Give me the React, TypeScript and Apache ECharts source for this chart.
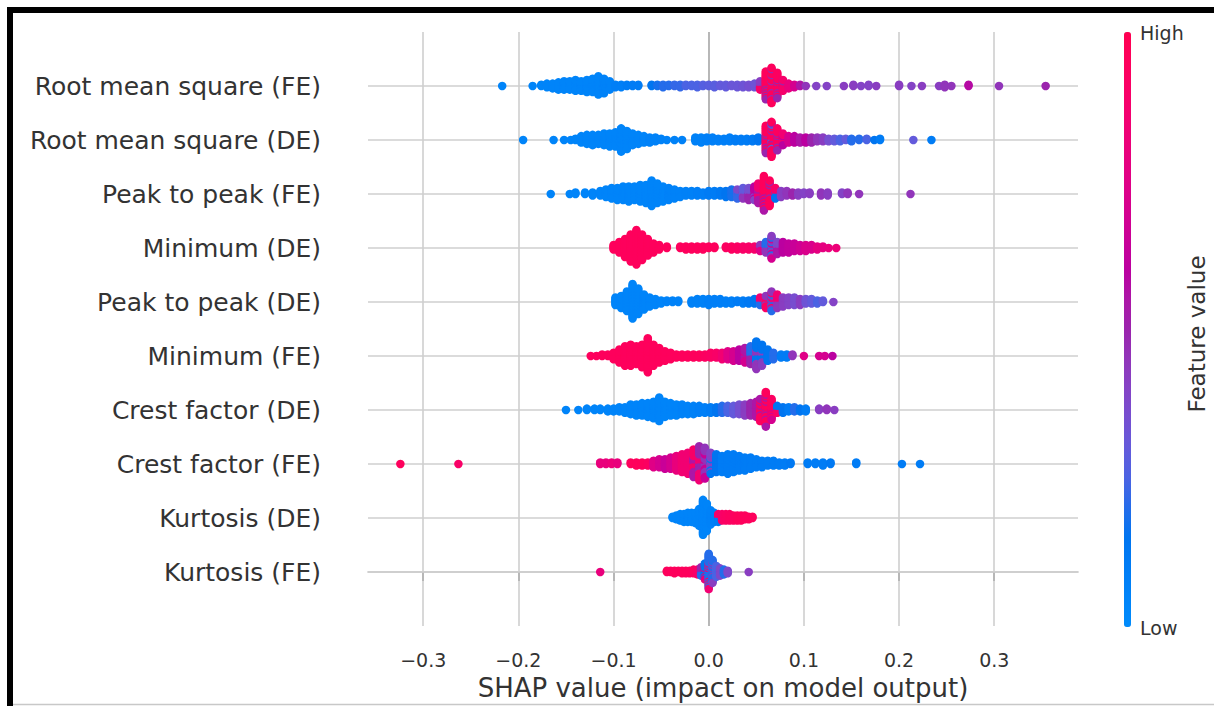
import React, { useEffect, useRef } from "react";
import * as echarts from "echarts";

// Feature names, top to bottom
const features = [
  "Root mean square (FE)",
  "Root mean square (DE)",
  "Peak to peak (FE)",
  "Minimum (DE)",
  "Peak to peak (DE)",
  "Minimum (FE)",
  "Crest factor (DE)",
  "Crest factor (FE)",
  "Kurtosis (DE)",
  "Kurtosis (FE)",
];

const xTicks = [-0.3, -0.2, -0.1, 0, 0.1, 0.2, 0.3];

// Each entry: [SHAP value, number of samples, feature value (0 = low, 1 = high)]
const rmsFE = [
  [-0.217, 1, 0.05], [-0.185, 1, 0.05],
  [-0.176, 2, 0.05], [-0.170, 4, 0.05], [-0.164, 5, 0.05], [-0.158, 7, 0.05], [-0.152, 8, 0.05],
  [-0.146, 8, 0.05], [-0.140, 10, 0.05], [-0.134, 9, 0.05], [-0.128, 11, 0.05], [-0.122, 12, 0.05],
  [-0.116, 16, 0.05], [-0.110, 13, 0.06], [-0.104, 8, 0.06],
  [-0.098, 3, 0.08], [-0.092, 3, 0.08], [-0.086, 2, 0.1], [-0.080, 2, 0.1], [-0.074, 2, 0.1],
  [-0.060, 2, 0.15], [-0.054, 2, 0.18], [-0.048, 3, 0.2], [-0.042, 2, 0.2], [-0.036, 2, 0.22],
  [-0.030, 3, 0.22], [-0.024, 2, 0.25], [-0.018, 2, 0.25], [-0.012, 3, 0.25], [-0.006, 2, 0.27],
  [0.000, 2, 0.28], [0.006, 3, 0.28], [0.012, 2, 0.3], [0.018, 3, 0.3], [0.024, 2, 0.32],
  [0.030, 3, 0.32], [0.036, 3, 0.33], [0.042, 3, 0.35], [0.048, 4, 0.33], [0.054, 4, 0.9], [0.054, 4, 0.42],
  [0.060, 18, 0.95], [0.060, 6, 0.5], [0.066, 24, 0.95], [0.066, 6, 0.48], [0.072, 16, 0.93], [0.072, 6, 0.5],
  [0.078, 8, 0.88], [0.078, 2, 0.5], [0.084, 5, 0.8], [0.090, 3, 0.7], [0.096, 2, 0.55], [0.102, 1, 0.45],
  [0.113, 1, 0.4], [0.124, 1, 0.4], [0.142, 1, 0.42], [0.152, 2, 0.42], [0.160, 1, 0.4],
  [0.168, 2, 0.4], [0.176, 1, 0.42], [0.200, 2, 0.42], [0.213, 1, 0.4], [0.224, 1, 0.42],
  [0.242, 1, 0.42], [0.248, 3, 0.45], [0.255, 1, 0.45], [0.273, 2, 0.58], [0.305, 1, 0.45], [0.354, 1, 0.5],
];

const rmsDE = [
  [-0.195, 1, 0.05], [-0.163, 1, 0.05], [-0.152, 1, 0.05], [-0.145, 1, 0.05], [-0.140, 2, 0.05],
  [-0.134, 6, 0.05], [-0.128, 8, 0.05], [-0.122, 9, 0.05], [-0.116, 8, 0.05], [-0.110, 10, 0.05],
  [-0.104, 11, 0.05], [-0.098, 12, 0.05], [-0.092, 19, 0.05], [-0.086, 15, 0.05], [-0.080, 10, 0.05],
  [-0.074, 8, 0.05], [-0.068, 6, 0.05], [-0.062, 5, 0.06], [-0.056, 4, 0.06], [-0.050, 2, 0.06],
  [-0.044, 1, 0.06], [-0.036, 1, 0.06], [-0.028, 1, 0.07],
  [-0.014, 4, 0.07], [-0.008, 5, 0.07], [-0.002, 4, 0.08], [0.004, 4, 0.08], [0.010, 3, 0.08],
  [0.016, 3, 0.08], [0.022, 4, 0.08], [0.028, 3, 0.1], [0.034, 3, 0.1], [0.040, 3, 0.1],
  [0.046, 3, 0.12], [0.052, 4, 0.15],
  [0.060, 16, 0.95], [0.060, 6, 0.5], [0.066, 20, 0.95], [0.066, 5, 0.5], [0.066, 3, 0.25],
  [0.072, 13, 0.93], [0.072, 5, 0.5], [0.078, 7, 0.85], [0.078, 3, 0.6],
  [0.084, 6, 0.7], [0.090, 6, 0.6], [0.096, 5, 0.55], [0.102, 5, 0.6],
  [0.108, 5, 0.5], [0.114, 4, 0.45], [0.120, 4, 0.42], [0.126, 3, 0.35], [0.132, 3, 0.3],
  [0.138, 3, 0.25], [0.144, 2, 0.3], [0.150, 3, 0.2], [0.158, 2, 0.2], [0.166, 2, 0.25],
  [0.174, 1, 0.15], [0.180, 2, 0.1], [0.215, 1, 0.3], [0.234, 1, 0.1],
];

const p2pFE = [
  [-0.166, 1, 0.05], [-0.146, 1, 0.05], [-0.140, 2, 0.05], [-0.130, 2, 0.05], [-0.122, 3, 0.05],
  [-0.114, 4, 0.05], [-0.108, 6, 0.05], [-0.102, 8, 0.05], [-0.096, 9, 0.05], [-0.090, 10, 0.05],
  [-0.084, 11, 0.05], [-0.078, 10, 0.05], [-0.072, 12, 0.05], [-0.066, 13, 0.05], [-0.060, 18, 0.05],
  [-0.054, 14, 0.05], [-0.048, 11, 0.05], [-0.042, 9, 0.06], [-0.036, 7, 0.06], [-0.030, 5, 0.06],
  [-0.024, 4, 0.07], [-0.018, 4, 0.07], [-0.012, 4, 0.08], [-0.006, 3, 0.08], [0.000, 4, 0.1],
  [0.006, 4, 0.1], [0.012, 4, 0.12], [0.018, 5, 0.15], [0.024, 6, 0.18], [0.030, 5, 0.22],
  [0.030, 2, 0.38], [0.036, 5, 0.3], [0.036, 3, 0.45], [0.042, 4, 0.35], [0.042, 5, 0.5],
  [0.048, 3, 0.4], [0.048, 7, 0.6],
  [0.052, 8, 0.85], [0.052, 6, 0.55], [0.058, 18, 0.95], [0.058, 6, 0.55], [0.064, 14, 0.95], [0.064, 4, 0.5],
  [0.070, 5, 0.9], [0.070, 3, 0.15], [0.076, 5, 0.42], [0.082, 4, 0.45], [0.088, 3, 0.5],
  [0.094, 3, 0.42], [0.100, 2, 0.4], [0.106, 2, 0.42], [0.118, 3, 0.45], [0.125, 3, 0.42],
  [0.140, 2, 0.4], [0.146, 2, 0.45], [0.158, 1, 0.45], [0.212, 1, 0.45],
];

const minDE = [
  [-0.100, 4, 0.95], [-0.094, 8, 0.95], [-0.088, 13, 0.95], [-0.082, 19, 0.95], [-0.076, 24, 0.95],
  [-0.070, 18, 0.95], [-0.064, 12, 0.95], [-0.058, 7, 0.95], [-0.052, 4, 0.95], [-0.044, 2, 0.95],
  [-0.030, 2, 0.95], [-0.024, 3, 0.95], [-0.018, 3, 0.95], [-0.012, 3, 0.95], [-0.006, 3, 0.95],
  [0.000, 2, 0.95], [0.006, 2, 0.95], [0.018, 2, 0.93], [0.024, 3, 0.93], [0.030, 3, 0.92],
  [0.036, 3, 0.9], [0.042, 3, 0.9], [0.048, 3, 0.88], [0.054, 3, 0.75], [0.054, 2, 0.45],
  [0.060, 4, 0.45], [0.060, 4, 0.2], [0.066, 6, 0.42], [0.066, 5, 0.2], [0.066, 5, 0.7],
  [0.072, 5, 0.55], [0.072, 4, 0.38],
  [0.078, 8, 0.6], [0.084, 7, 0.62], [0.090, 6, 0.65], [0.096, 5, 0.68], [0.102, 5, 0.72],
  [0.108, 4, 0.72], [0.114, 3, 0.78], [0.120, 2, 0.78], [0.126, 1, 0.8], [0.134, 1, 0.82],
];

const p2pDE = [
  [-0.098, 6, 0.05], [-0.092, 9, 0.05], [-0.086, 14, 0.05], [-0.080, 24, 0.05], [-0.074, 18, 0.05],
  [-0.068, 11, 0.05], [-0.062, 7, 0.05], [-0.056, 5, 0.05], [-0.050, 3, 0.05], [-0.044, 2, 0.06],
  [-0.038, 2, 0.06], [-0.032, 2, 0.06], [-0.018, 3, 0.07], [-0.012, 4, 0.07], [-0.006, 4, 0.07],
  [0.000, 5, 0.08], [0.006, 4, 0.08], [0.012, 4, 0.08], [0.018, 3, 0.08], [0.024, 3, 0.08],
  [0.030, 2, 0.1], [0.036, 3, 0.1], [0.042, 3, 0.12], [0.048, 4, 0.15], [0.054, 3, 0.2], [0.054, 3, 0.85],
  [0.060, 6, 0.92], [0.060, 3, 0.45], [0.066, 5, 0.2], [0.066, 5, 0.45], [0.066, 4, 0.9],
  [0.072, 5, 0.45], [0.072, 5, 0.85],
  [0.078, 7, 0.42], [0.084, 6, 0.4], [0.090, 6, 0.36], [0.096, 5, 0.42], [0.102, 4, 0.33],
  [0.108, 4, 0.3], [0.114, 3, 0.25], [0.120, 2, 0.3], [0.131, 1, 0.4],
];

const minFE = [
  [-0.124, 1, 0.95], [-0.118, 1, 0.95], [-0.112, 2, 0.95], [-0.106, 2, 0.95], [-0.100, 5, 0.95],
  [-0.094, 9, 0.95], [-0.088, 13, 0.95], [-0.082, 14, 0.95], [-0.076, 12, 0.95], [-0.070, 15, 0.95],
  [-0.064, 22, 0.95], [-0.058, 14, 0.95], [-0.052, 10, 0.95], [-0.046, 7, 0.95], [-0.040, 5, 0.95],
  [-0.034, 3, 0.95], [-0.028, 3, 0.95], [-0.022, 3, 0.95], [-0.016, 3, 0.95], [-0.010, 3, 0.95],
  [-0.004, 3, 0.93], [0.002, 4, 0.92], [0.008, 4, 0.9], [0.014, 5, 0.85], [0.020, 6, 0.75],
  [0.026, 7, 0.7], [0.032, 8, 0.6], [0.038, 6, 0.55], [0.038, 4, 0.7], [0.044, 6, 0.5],
  [0.044, 6, 0.2], [0.050, 8, 0.45], [0.050, 10, 0.15], [0.056, 6, 0.42], [0.056, 8, 0.15],
  [0.062, 8, 0.15], [0.068, 5, 0.2],
  [0.076, 3, 0.1], [0.082, 3, 0.1], [0.088, 2, 0.45], [0.100, 1, 0.75], [0.116, 1, 0.7],
  [0.122, 1, 0.7], [0.130, 1, 0.6],
];

const crestDE = [
  [-0.150, 1, 0.05], [-0.137, 1, 0.05], [-0.128, 2, 0.05], [-0.120, 2, 0.05], [-0.114, 2, 0.05],
  [-0.106, 3, 0.05], [-0.100, 3, 0.05], [-0.094, 4, 0.05], [-0.088, 5, 0.05], [-0.082, 8, 0.05],
  [-0.076, 9, 0.05], [-0.070, 10, 0.05], [-0.064, 11, 0.05], [-0.058, 13, 0.05], [-0.052, 18, 0.05],
  [-0.046, 12, 0.05], [-0.040, 10, 0.05], [-0.034, 9, 0.05], [-0.028, 8, 0.06], [-0.022, 7, 0.06],
  [-0.016, 7, 0.07], [-0.010, 6, 0.08], [-0.004, 5, 0.08], [0.002, 5, 0.1], [0.008, 5, 0.15],
  [0.014, 6, 0.2], [0.020, 6, 0.25], [0.026, 7, 0.3], [0.032, 8, 0.35], [0.038, 9, 0.42],
  [0.044, 10, 0.5], [0.050, 12, 0.55],
  [0.054, 12, 0.93], [0.054, 5, 0.55], [0.060, 18, 0.95], [0.060, 8, 0.55], [0.066, 12, 0.93], [0.066, 4, 0.7],
  [0.072, 3, 0.9], [0.072, 3, 0.15], [0.078, 5, 0.15], [0.084, 4, 0.1], [0.090, 4, 0.2],
  [0.096, 3, 0.15], [0.102, 3, 0.1], [0.116, 2, 0.42], [0.124, 2, 0.45], [0.132, 1, 0.42],
];

const crestFE = [
  [-0.324, 1, 0.95], [-0.263, 1, 0.9],
  [-0.114, 2, 0.8], [-0.108, 2, 0.8], [-0.102, 2, 0.82], [-0.096, 2, 0.8], [-0.082, 2, 0.95],
  [-0.076, 3, 0.95], [-0.070, 3, 0.95], [-0.064, 3, 0.93], [-0.058, 5, 0.75], [-0.052, 6, 0.7],
  [-0.046, 7, 0.65], [-0.040, 8, 0.7], [-0.034, 10, 0.8], [-0.028, 12, 0.85], [-0.022, 14, 0.85],
  [-0.016, 10, 0.9], [-0.016, 8, 0.55], [-0.010, 10, 0.85], [-0.010, 12, 0.5], [-0.004, 12, 0.45],
  [-0.004, 8, 0.65], [0.002, 10, 0.4], [0.002, 4, 0.15], [0.008, 12, 0.15], [0.014, 11, 0.1],
  [0.020, 13, 0.1], [0.026, 12, 0.1], [0.032, 10, 0.1], [0.038, 9, 0.1], [0.044, 8, 0.1],
  [0.050, 6, 0.1], [0.056, 5, 0.1], [0.062, 4, 0.1], [0.068, 4, 0.1], [0.074, 3, 0.1],
  [0.080, 3, 0.1], [0.086, 2, 0.12], [0.104, 2, 0.1], [0.112, 2, 0.1], [0.120, 3, 0.1],
  [0.128, 2, 0.12], [0.155, 2, 0.1], [0.203, 1, 0.1], [0.222, 1, 0.1],
];

const kurtDE = [
  [-0.038, 2, 0.05], [-0.034, 4, 0.05], [-0.030, 6, 0.05], [-0.026, 7, 0.05], [-0.022, 8, 0.05],
  [-0.018, 8, 0.05], [-0.014, 9, 0.05], [-0.010, 14, 0.05], [-0.006, 28, 0.05], [-0.002, 22, 0.05],
  [0.002, 12, 0.06], [0.006, 8, 0.08], [0.010, 4, 0.1], [0.010, 3, 0.9], [0.014, 6, 0.9],
  [0.018, 6, 0.92], [0.022, 6, 0.93], [0.026, 5, 0.93], [0.030, 5, 0.95], [0.034, 5, 0.95],
  [0.038, 4, 0.95], [0.042, 3, 0.95], [0.046, 2, 0.95],
];

const kurtFE = [
  [-0.114, 1, 0.8], [-0.044, 2, 0.95], [-0.040, 2, 0.95], [-0.036, 3, 0.95], [-0.032, 2, 0.95],
  [-0.028, 3, 0.95], [-0.024, 3, 0.95], [-0.020, 3, 0.95], [-0.016, 4, 0.93], [-0.012, 5, 0.9],
  [-0.008, 5, 0.5], [-0.008, 3, 0.2], [-0.004, 10, 0.15], [-0.004, 4, 0.8], [0.000, 22, 0.2],
  [0.000, 8, 0.85], [0.004, 14, 0.2], [0.004, 6, 0.42], [0.008, 10, 0.25], [0.012, 7, 0.38],
  [0.016, 5, 0.2], [0.020, 3, 0.38], [0.042, 1, 0.42],
];

const rows = [rmsFE, rmsDE, p2pFE, minDE, p2pDE, minFE, crestDE, crestFE, kurtDE, kurtFE];

// SHAP "red_blue" colormap (LCh interpolation)
function shapColor(t: number): string {
  const L = t < 0.5 ? 54 + (40 - 54) * (t / 0.5) : 40 + (54 - 40) * ((t - 0.5) / 0.5);
  const C = 70 + 20 * t;
  const h = 4.6588 + (0.35470565 + 2 * Math.PI - 4.6588) * t;
  const a = C * Math.cos(h);
  const b = C * Math.sin(h);
  const fy = (L + 16) / 116;
  const fx = fy + a / 500;
  const fz = fy - b / 200;
  const finv = (v: number) => (v ** 3 > 0.008856 ? v ** 3 : (v - 16 / 116) / 7.787);
  const X = 0.95047 * finv(fx);
  const Y = 1.0 * finv(fy);
  const Z = 1.08883 * finv(fz);
  const lin = [
    3.2406 * X - 1.5372 * Y - 0.4986 * Z,
    -0.9689 * X + 1.8758 * Y + 0.0415 * Z,
    0.0557 * X - 0.204 * Y + 1.057 * Z,
  ];
  const hex = lin
    .map((c) => {
      const g = c <= 0.0031308 ? 12.92 * c : 1.055 * Math.pow(c, 1 / 2.4) - 0.055;
      const v = Math.max(0, Math.min(255, Math.round(g * 255)));
      return v.toString(16).padStart(2, "0");
    })
    .join("");
  return "#" + hex;
}

// beeswarm layout as in shap.summary_plot
function swarm(groups: number[][], pos: number): number[][] {
  const items: { x: number; c: number; k: number; g: number }[] = [];
  groups.forEach((gr, gi) => {
    const [x, n, c] = gr;
    for (let j = 0; j < n; j++) items.push({ x, c, k: (j + 0.5) / n, g: gi });
  });
  const xs = items.map((d) => d.x);
  const mn = Math.min(...xs);
  const mx = Math.max(...xs);
  const nbins = 100;
  const withQ = items.map((d) => ({ ...d, q: Math.round((nbins * (d.x - mn)) / (mx - mn + 1e-8)) }));
  withQ.sort((p, q) => p.q - q.q || p.k - q.k || p.g - q.g);
  let layer = 0;
  let last = -1;
  const ys: number[] = [];
  withQ.forEach((d) => {
    if (d.q !== last) layer = 0;
    ys.push(Math.ceil(layer / 2) * ((layer % 2) * 2 - 1));
    layer += 1;
    last = d.q;
  });
  const maxY = Math.max(...ys.map((y) => y + 1));
  const f = (0.9 * 0.4) / maxY;
  return withQ.map((d, i) => [d.x, pos + ys[i] * f, d.c]);
}

const FONT = "DejaVu Sans";

export default function App() {
  const ref = useRef<HTMLDivElement>(null);
  useEffect(() => {
    if (!ref.current) return;
    const chart = echarts.init(ref.current, null, { renderer: "svg" });
    const points: number[][] = [];
    rows.forEach((r, i) => points.push(...swarm(r, features.length - 1 - i)));
    const stops = Array.from({ length: 21 }, (_, i) => shapColor(i / 20));
    const gridStyle = { color: "#cfcfcf", width: 1.6, type: "solid" as const };
    const vLines = xTicks.map((v) => ({
      xAxis: v,
      lineStyle: v === 0 ? { color: "#a6a6a6", width: 1.6, type: "solid" } : gridStyle,
    }));
    const hLines = features.map((_, i) => ({ yAxis: i, lineStyle: gridStyle }));
    chart.setOption({
      animation: false,
      backgroundColor: "#ffffff",
      grid: { left: 368, right: 136, top: 32, bottom: 79 },
      xAxis: {
        type: "value",
        min: -0.358,
        max: 0.388,
        splitLine: { show: false },
        axisLine: { show: true, lineStyle: { color: "#bdbdbd", width: 1.6 } },
        axisTick: { show: true, customValues: xTicks, length: 9, lineStyle: { color: "#333333", width: 1.6 } },
        axisLabel: {
          customValues: xTicks,
          formatter: (v: number) => (v < 0 ? "\u2212" : "") + Math.abs(v).toFixed(1),
          fontSize: 19,
          color: "#333333",
          margin: 24,
          fontFamily: FONT,
        },
        name: "SHAP value (impact on model output)",
        nameLocation: "middle",
        nameGap: 49,
        nameTextStyle: { fontSize: 26, color: "#333333", fontFamily: FONT },
      },
      yAxis: {
        type: "value",
        min: -1,
        max: 10,
        splitLine: { show: false },
        axisLine: { show: false },
        axisTick: { show: false },
        axisLabel: {
          customValues: features.map((_, i) => i),
          formatter: (v: number) => features[features.length - 1 - Math.round(v)],
          fontSize: 25,
          color: "#333333",
          margin: 47,
          fontFamily: FONT,
        },
      },
      visualMap: {
        type: "continuous",
        min: 0,
        max: 1,
        dimension: 2,
        seriesIndex: 0,
        calculable: false,
        hoverLink: false,
        text: null,
        padding: 0,
        left: 1124,
        top: 32,
        itemWidth: 7,
        itemHeight: 595,
        inRange: { color: stops },
      },
      series: [
        {
          type: "scatter",
          z: 5,
          symbol: "circle",
          symbolSize: 8.5,
          data: points,
          itemStyle: { opacity: 1 },
          markLine: {
            silent: true,
            symbol: "none",
            z: 1,
            label: { show: false },
            data: [...vLines, ...hLines],
          },
        },
      ],
      graphic: [
        { type: "text", left: 1140, top: 23, style: { text: "High", fontSize: 19, fill: "#333333", fontFamily: FONT } },
        { type: "text", left: 1140, top: 618, style: { text: "Low", fontSize: 19, fill: "#333333", fontFamily: FONT } },
        {
          type: "text",
          x: 1197,
          y: 334,
          rotation: Math.PI / 2,
          style: { text: "Feature value", fontSize: 23, fill: "#333333", fontFamily: FONT, align: "center", verticalAlign: "middle" },
        },
        { type: "rect", shape: { x: 7, y: 7, width: 1207, height: 6 }, style: { fill: "#000000" } },
        { type: "rect", shape: { x: 7, y: 7, width: 6, height: 699 }, style: { fill: "#000000" } },
        { type: "line", shape: { x1: 13, y1: 704.5, x2: 1214, y2: 704.5 }, style: { stroke: "#c8c8c8", lineWidth: 1.5 } },
      ],
    });
    return () => chart.dispose();
  }, []);
  return <div ref={ref} style={{ position: "fixed", left: 0, top: 0, width: 1214, height: 706 }} />;
}
